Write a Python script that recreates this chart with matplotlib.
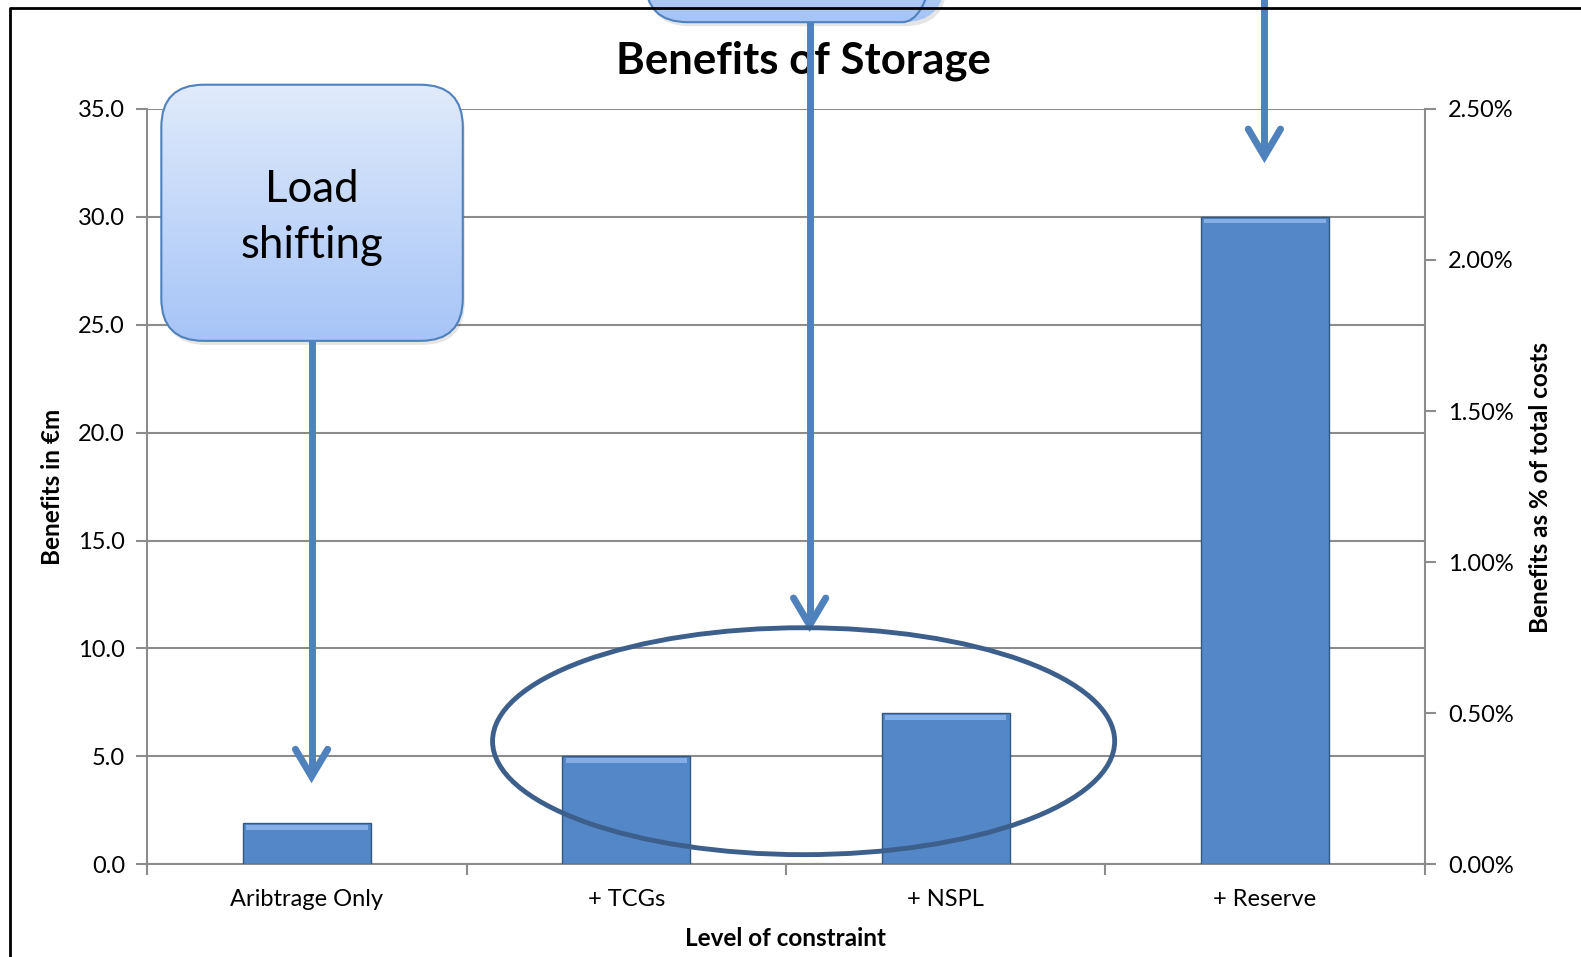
import matplotlib.pyplot as plt
import numpy as np
from matplotlib.patches import FancyBboxPatch, Ellipse
from matplotlib.ticker import FuncFormatter, MultipleLocator

plt.rcParams['font.family'] = ['Lato', 'DejaVu Sans']

categories = ['Aribtrage Only', '+ TCGs', '+ NSPL', '+ Reserve']
benefits = [1.9, 5.0, 7.0, 30.0]          # €m
y_ticks = [0, 5, 10, 15, 20, 25, 30, 35]
pct_ticks = [0.0, 0.5, 1.0, 1.5, 2.0, 2.5]  # % of total costs

# layout is measured on a 1568x949 copy of the slide, saved at 1581x957
W, H = 1568, 949
fig = plt.figure(figsize=(15.81, 9.57), dpi=100)

L, R, T, B = 146, 1413, 108, 857
ax = fig.add_axes([L / W, 1 - B / H, (R - L) / W, (B - T) / H])

grey = '#8c8c8c'
x = np.arange(len(categories))
ax.bar(x, benefits, width=0.4, color='#5487C7', edgecolor='#34597F', linewidth=1, zorder=3)
# light bevel strip along the top of each bar
ax.bar(x, [0.22] * len(x), bottom=np.array(benefits) - 0.3, width=0.38,
       color='#86AEE6', linewidth=0, zorder=4)

ax.set_xlim(-0.5, len(categories) - 0.5)
ax.set_ylim(0, 35)
ax.set_yticks(y_ticks)
ax.yaxis.set_major_formatter(FuncFormatter(lambda v, p: f'{v:.1f}'))
ax.set_xticks(x)
ax.set_xticklabels(categories)
ax.xaxis.set_minor_locator(MultipleLocator(1, offset=0.5))
ax.tick_params(axis='x', which='major', length=0, labelsize=17, pad=18)
ax.tick_params(axis='x', which='minor', length=8, color=grey, width=1.5)
ax.tick_params(axis='y', length=8, color=grey, width=1.5, labelsize=17, pad=8)
ax.grid(axis='y', color=grey, linewidth=1.5, zorder=0)
for s in ['left', 'right', 'bottom']:
    ax.spines[s].set_color(grey)
    ax.spines[s].set_linewidth(1.5)
ax.spines['top'].set_visible(False)

ax2 = ax.twinx()
ax2.set_ylim(0, 2.5)
ax2.set_yticks(pct_ticks)
ax2.yaxis.set_major_formatter(FuncFormatter(lambda v, p: f'{v:.2f}%'))
ax2.tick_params(axis='y', length=8, color=grey, width=1.5, labelsize=17, pad=9)
for s in ['left', 'right', 'bottom', 'top']:
    ax2.spines[s].set_visible(False)

# titles and axis labels
fig.text(797 / W, 1 - 60 / H, 'Benefits of Storage', ha='center', va='center',
         fontsize=31.5, fontweight='bold')
fig.text(52 / W, 1 - 483 / H, 'Benefits in €m', rotation=90, ha='center', va='center',
         fontsize=17.5, fontweight='bold')
fig.text(1528 / W, 1 - 483 / H, 'Benefits as % of total costs', rotation=90,
         ha='center', va='center', fontsize=17.5, fontweight='bold')
fig.text(779 / W, 1 - 931 / H, 'Level of constraint', ha='center', va='center',
         fontsize=17.5, fontweight='bold')

# overlay in pixel coordinates for the slide annotations
ov = fig.add_axes([0, 0, 1, 1], zorder=10)
ov.axis('off')
ov.patch.set_alpha(0)

grad = np.linspace(0, 1, 256)[:, None]
c_top = np.array([0.88, 0.92, 0.985])
c_bot = np.array([0.65, 0.77, 0.97])
grad_img = c_top + (c_bot - c_top) * grad[:, :, None]


def callout(x0, y0, x1, y1, text=None):
    shadow = FancyBboxPatch((x0 + 2, y0 + 4), x1 - x0, y1 - y0,
                            boxstyle='round,pad=0,rounding_size=42',
                            fc='#000000', ec='none', alpha=0.1, zorder=1)
    ov.add_patch(shadow)
    box = FancyBboxPatch((x0, y0), x1 - x0, y1 - y0,
                         boxstyle='round,pad=0,rounding_size=42',
                         fc='none', ec='#4F81BD', lw=1.5, zorder=3)
    ov.add_patch(box)
    im = ov.imshow(grad_img, extent=(x0, x1, y1, y0), origin='upper',
                   aspect='auto', zorder=2)
    im.set_clip_path(box)
    if text:
        ov.text((x0 + x1) / 2, (y0 + y1) / 2 + 5, text, ha='center', va='center',
                fontsize=31.5, linespacing=1.45, zorder=4)


def arrow(xc, y0, y1):
    kw = dict(color='#4F81BD', lw=5, zorder=5)
    ov.plot([xc, xc], [y0, y1 - 3], solid_capstyle='butt', **kw)
    ov.plot([xc - 16, xc, xc + 16], [y1 - 27, y1, y1 - 27],
            solid_capstyle='round', solid_joinstyle='miter', **kw)


callout(160, 84, 459, 338, 'Load\nshifting')
callout(640, -233, 937, 22)
arrow(309, 338, 770)
arrow(803, 22, 620)
arrow(1254, -5, 155)

ov.add_patch(Ellipse((797, 735), 617, 225, fill=False, ec='#3C5F8C', lw=3.5, zorder=6))

# slide frame
ov.plot([10, 10, W + 5], [H + 5, 8, 8], color='black', lw=2, zorder=7)

ov.set_xlim(0, W)
ov.set_ylim(H, 0)

fig.savefig('out.png', dpi=100)
